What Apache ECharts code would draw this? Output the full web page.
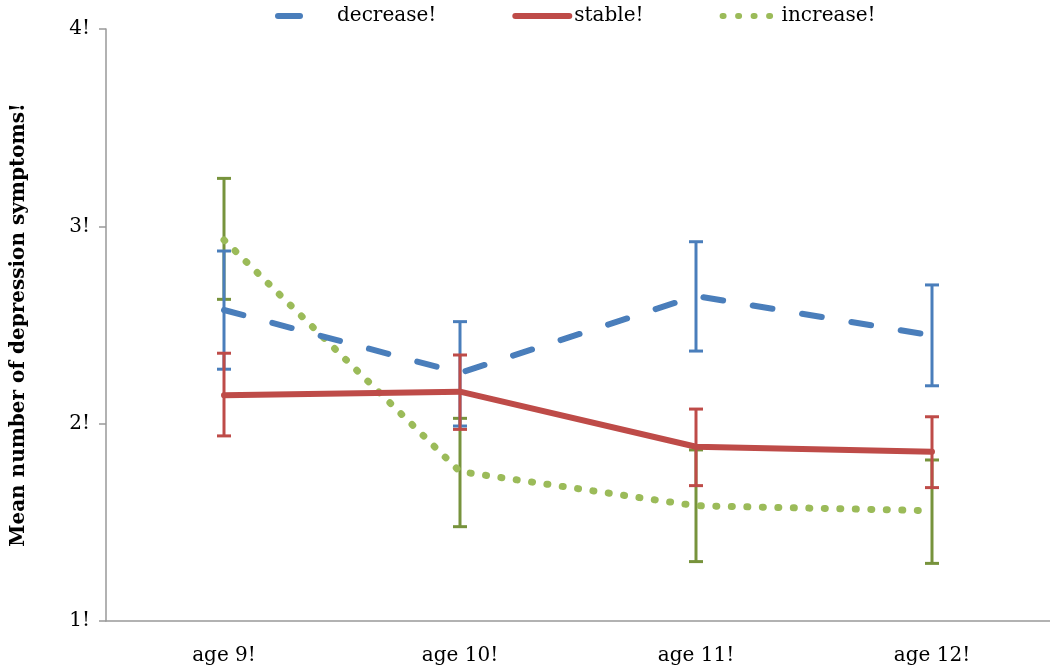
<!DOCTYPE html>
<html>
<head>
<meta charset="utf-8">
<script src="https://cdn.jsdelivr.net/npm/echarts@6/dist/echarts.min.js"></script>
<style>html,body{margin:0;padding:0;background:#fff;}#c{width:1050px;height:670px;}</style>
</head>
<body>
<div id="c"></div>
<script>
const categories = ['age 9!', 'age 10!', 'age 11!', 'age 12!'];
const yTicks = [1, 2, 3, 4];
const decrease = [2.576, 2.257, 2.647, 2.447];
const stable = [2.144, 2.162, 1.883, 1.858];
const increase = [2.931, 1.757, 1.584, 1.559];
const decreaseLow = [2.276, 1.988, 2.368, 2.192];
const decreaseHigh = [2.875, 2.517, 2.922, 2.703];
const stableLow = [1.938, 1.971, 1.686, 1.676];
const stableHigh = [2.357, 2.348, 2.074, 2.035];
const increaseLow = [2.630, 1.478, 1.301, 1.292];
const increaseHigh = [3.243, 2.027, 1.867, 1.816];

const FONT = 'DejaVu Serif';
const chart = echarts.init(document.getElementById('c'));

function errData(low, high) {
  return low.map((l, i) => [i, l, high[i]]);
}
function errSeries(name, low, high, color, z) {
  return {
    type: 'custom',
    name: name + '_err',
    z: z,
    silent: true,
    data: errData(low, high),
    encode: { x: 0, y: [1, 2] },
    renderItem: function (params, api) {
      const i = api.value(0);
      const lo = api.coord([i, api.value(1)]);
      const hi = api.coord([i, api.value(2)]);
      const hw = 7;
      const st = { stroke: color, lineWidth: 3 };
      return {
        type: 'group',
        children: [
          { type: 'line', shape: { x1: lo[0], y1: lo[1], x2: hi[0], y2: hi[1] }, style: st },
          { type: 'line', shape: { x1: lo[0] - hw, y1: lo[1], x2: lo[0] + hw, y2: lo[1] }, style: st },
          { type: 'line', shape: { x1: hi[0] - hw, y1: hi[1], x2: hi[0] + hw, y2: hi[1] }, style: st }
        ]
      };
    }
  };
}

const option = {
  animation: false,
  backgroundColor: '#ffffff',
  grid: { left: 106, right: 0, top: 29, bottom: 49, containLabel: false, outerBoundsMode: 'none' },
  legend: {
    left: 270,
    top: 1,
    itemWidth: 54,
    itemHeight: 14,
    itemGap: 76,
    data: [
      { name: 'decrease!', lineStyle: { type: [22, 60] } },
      { name: 'stable!' },
      { name: 'increase!' }
    ],
    itemStyle: { opacity: 0 },
    lineStyle: { width: 6, cap: 'round' },
    textStyle: { fontFamily: FONT, fontSize: 20, color: '#000' }
  },
  xAxis: {
    type: 'category',
    data: categories,
    boundaryGap: true,
    axisLine: { lineStyle: { color: '#999999', width: 1.5 } },
    axisTick: { show: false },
    axisLabel: { fontFamily: FONT, fontSize: 20, color: '#000', margin: 25 }
  },
  yAxis: {
    type: 'value',
    min: yTicks[0],
    max: yTicks[yTicks.length - 1],
    interval: 1,
    name: 'Mean number of depression symptoms!',
    nameLocation: 'middle',
    nameGap: 77,
    nameTextStyle: { fontFamily: FONT, fontSize: 20, fontWeight: 'bold', color: '#000' },
    axisLine: { show: true, lineStyle: { color: '#999999', width: 1.5 } },
    axisTick: { show: true, length: 7, lineStyle: { color: '#999999', width: 1.5 } },
    splitLine: { show: false },
    axisLabel: { fontFamily: FONT, fontSize: 20, color: '#000', margin: 16, formatter: v => v + '!' }
  },
  series: [
    errSeries('increase', increaseLow, increaseHigh, '#77933C', 2),
    errSeries('decrease', decreaseLow, decreaseHigh, '#4A7EBB', 2),
    errSeries('stable', stableLow, stableHigh, '#BE4B48', 2),
    {
      name: 'increase!', type: 'line', data: increase, symbol: 'none', z: 3,
      itemStyle: { color: '#9BBB59' },
      lineStyle: { color: '#9BBB59', width: 7, type: [1, 14.5], cap: 'round' }
    },
    {
      name: 'decrease!', type: 'line', data: decrease, symbol: 'none', z: 4,
      itemStyle: { color: '#4A7EBB' },
      lineStyle: { color: '#4A7EBB', width: 6, type: [20, 30], cap: 'round' }
    },
    {
      name: 'stable!', type: 'line', data: stable, symbol: 'none', z: 5,
      itemStyle: { color: '#BE4B48' },
      lineStyle: { color: '#BE4B48', width: 6, cap: 'round', join: 'round' }
    }
  ]
};
chart.setOption(option);
</script>
</body>
</html>
